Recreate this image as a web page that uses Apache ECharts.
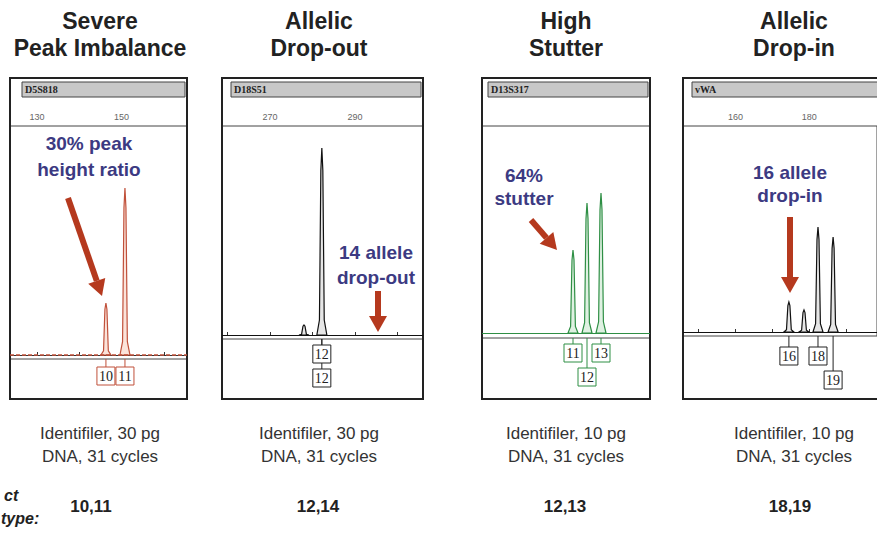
<!DOCTYPE html>
<html>
<head>
<meta charset="utf-8">
<script src="https://cdn.jsdelivr.net/npm/echarts@6/dist/echarts.min.js"></script>
<style>
  html, body { margin: 0; padding: 0; background: #fff; }
  #chart { width: 877px; height: 533px; }
</style>
</head>
<body>
<div id="chart"></div>
<script>
// peak data (size in bp, height in RFU)
const d5Sizes = [146.3, 150.8];
const d5Heights = [520, 1670];
const d5Labels = ['10', '11'];
const d5LabelSizes = [146.3, 150.8];
const d5Ticks = [130, 140, 150, 160];
const d5TickLabels = [130, 150];

const d18Sizes = [278.0, 282.2];
const d18Heights = [100, 1870];
const d18Labels = ['12', '12'];
const d18LabelSizes = [282.2, 282.2];
const d18Ticks = [260, 270, 280, 290, 300];
const d18TickLabels = [270, 290];

const d13Sizes = [225, 229, 233];
const d13Heights = [830, 1300, 1400];
const d13Labels = ['11', '12', '13'];
const d13LabelSizes = [225, 229, 233];

const vwaSizes = [174.5, 178.6, 182.4, 186.5];
const vwaHeights = [300, 220, 1050, 950];
const vwaLabels = ['16', '18', '19'];
const vwaLabelSizes = [174.5, 182.4, 186.5];
const vwaTicks = [150, 160, 170, 180, 190];
const vwaTickLabels = [160, 180];

const titles = [['Severe', 'Peak Imbalance'], ['Allelic', 'Drop-out'], ['High', 'Stutter'], ['Allelic', 'Drop-in']];
const conditions = [['Identifiler, 30 pg', 'DNA, 31 cycles'], ['Identifiler, 30 pg', 'DNA, 31 cycles'],
                    ['Identifiler, 10 pg', 'DNA, 31 cycles'], ['Identifiler, 10 pg', 'DNA, 31 cycles']];
const genotypes = ['10,11', '12,14', '12,13', '18,19'];
const notes = [['30% peak', 'height ratio'], ['14 allele', 'drop-out'], ['64%', 'stutter'], ['16 allele', 'drop-in']];
const rowHeader = ['ct', 'type:'];

const SANS = '"Liberation Sans", Arial, sans-serif';
const SERIF = '"Liberation Serif", "Times New Roman", serif';
const NOTE_COLOR = '#3c3a82';
const ARROW_COLOR = '#b5391e';

const chart = echarts.init(document.getElementById('chart'), null, { renderer: 'svg' });

// layout of the four panels
const panels = [
    { locus: 'D5S818', left: 10, right: 187, lower: 359, header: 22, xMin: 123.62, xMax: 165.47, yMin: -40, yMax: 2290,
      sizes: d5Sizes, heights: d5Heights, labels: d5Labels, labelSizes: d5LabelSizes, rows: [0, 0], gap: 8,
      ticks: d5Ticks, tickLabels: d5TickLabels, color: '#c0503a', fill: '#fbe3da', baseDash: [4, 2],
      center: 100, noteX: 89, noteY: [143, 169], arrow: [68, 198, 102, 296], genoX: 91 },
    { locus: 'D18S51', left: 222, right: 423, lower: 339, header: 231, xMin: 258.71, xMax: 306.0, yMin: -40, yMax: 2090,
      sizes: d18Sizes, heights: d18Heights, labels: d18Labels, labelSizes: d18LabelSizes, rows: [0, 1], gap: 6,
      ticks: d18Ticks, tickLabels: d18TickLabels, color: '#111', fill: '#e6e6e6', baseDash: null,
      center: 319, noteX: 376, noteY: [252, 277], arrow: [378, 291, 378, 332], genoX: 318 },
    { locus: 'D13S317', left: 482, right: 650, lower: 338, header: 488, xMin: 199, xMax: 247, yMin: -50, yMax: 2070,
      sizes: d13Sizes, heights: d13Heights, labels: d13Labels, labelSizes: d13LabelSizes, rows: [0, 1, 0], gap: 6,
      ticks: [], tickLabels: [], color: '#2f8f45', fill: '#dff1e2', baseDash: null,
      center: 566, noteX: 524, noteY: [175, 198], arrow: [531, 220, 557, 250], genoX: 565 },
    { locus: 'vWA', left: 683, right: 890, lower: 336, header: 692, xMin: 145.75, xMax: 198.42, yMin: -40, yMax: 2060,
      sizes: vwaSizes, heights: vwaHeights, labels: vwaLabels, labelSizes: vwaLabelSizes, rows: [0, 0, 1], gap: 11,
      ticks: vwaTicks, tickLabels: vwaTickLabels, color: '#111', fill: '#e6e6e6', baseDash: null,
      center: 794, noteX: 790, noteY: [172, 195], arrow: [790, 217, 790, 293], genoX: 790 }
];

const AXIS_Y = 126, BOX_TOP = 78, BOX_BOTTOM = 399;

function peakItem(p) {
    return function (params, api) {
        const top = api.coord([api.value(0), api.value(1)]);
        const base = api.coord([api.value(0), 0]);
        const h = base[1] - top[1];
        const pts = [
            [base[0] - 5, base[1]], [base[0] - 2.4, base[1] - h * 0.08], [base[0] - 1, top[1] + h * 0.12],
            [top[0], top[1]],
            [base[0] + 1, top[1] + h * 0.12], [base[0] + 2.4, base[1] - h * 0.08], [base[0] + 5, base[1]]
        ];
        return { type: 'polygon', shape: { points: pts }, style: { fill: p.fill, stroke: p.color, lineWidth: 1.2 } };
    };
}

function labelItem(p) {
    return function (params, api) {
        const x = api.coord([api.value(0), 0])[0];
        const bottom = params.coordSys.y + params.coordSys.height;
        const y = bottom + p.gap + p.rows[params.dataIndex] * 24;
        const stroke = p.color === '#111' ? '#222' : p.color;
        return { type: 'group', children: [
            { type: 'line', z2: 0, shape: { x1: x, y1: bottom, x2: x, y2: y }, style: { stroke: stroke, lineWidth: 1 } },
            { type: 'rect', z2: 5, shape: { x: x - 9, y: y, width: 18, height: 18 }, style: { fill: '#fff', stroke: stroke, lineWidth: 1 } },
            { type: 'text', z2: 6, style: { text: p.labels[params.dataIndex], x: x, y: y + 9.5, align: 'center', verticalAlign: 'middle',
                textAlign: 'center', textVerticalAlign: 'middle', font: '14px ' + SERIF, fill: '#222' } }
        ] };
    };
}

function arrow(a) {
    const [x1, y1, x2, y2] = a;
    const dx = x2 - x1, dy = y2 - y1, len = Math.sqrt(dx * dx + dy * dy);
    const ux = dx / len, uy = dy / len;
    const hl = 16, hw = 9;
    const bx = x2 - ux * hl, by = y2 - uy * hl;
    return [
        { type: 'line', shape: { x1: x1, y1: y1, x2: bx, y2: by }, style: { stroke: ARROW_COLOR, lineWidth: 6 } },
        { type: 'polygon', shape: { points: [[x2, y2], [bx - uy * hw, by + ux * hw], [bx + uy * hw, by - ux * hw]] },
          style: { fill: ARROW_COLOR } }
    ];
}

function txt(text, x, y, font, fill, align) {
    return { type: 'text', z: 10, style: { text: text, x: x, y: y, font: font, fill: fill,
        align: align || 'center', textAlign: align || 'center', verticalAlign: 'middle', textVerticalAlign: 'middle' } };
}

const grids = [], xAxes = [], yAxes = [], series = [], graphics = [];

panels.forEach(function (p, i) {
    grids.push({ left: p.left, top: AXIS_Y, width: p.right - p.left, height: p.lower - AXIS_Y,
        show: true, borderColor: '#444', borderWidth: 1, backgroundColor: 'transparent' });
    xAxes.push({
        type: 'value', gridIndex: i, position: 'top', min: p.xMin, max: p.xMax,
        axisLine: { show: true, lineStyle: { color: '#333', width: 1 } },
        axisTick: { show: p.ticks.length > 0, length: 3, customValues: p.ticks, lineStyle: { color: '#333' } },
        axisLabel: { show: p.tickLabels.length > 0, customValues: p.tickLabels, fontSize: 9, color: '#666', margin: 5, fontFamily: SANS },
        splitLine: { show: false }
    });
    yAxes.push({ type: 'value', gridIndex: i, min: p.yMin, max: p.yMax, show: false });

    series.push({
        type: 'custom', xAxisIndex: i, yAxisIndex: i, renderItem: peakItem(p), clip: false,
        data: p.sizes.map(function (s, k) { return [s, p.heights[k]]; }),
        markLine: { silent: true, symbol: 'none', label: { show: false },
            lineStyle: { color: p.color, width: p.baseDash ? 1.5 : 1, type: p.baseDash || 'solid' },
            data: [{ yAxis: 0 }] },
        z: 3
    });
    series.push({
        type: 'custom', xAxisIndex: i, yAxisIndex: i, renderItem: labelItem(p), clip: false,
        data: p.labelSizes.map(function (s) { return [s, 0]; }), z: 4
    });

    // panel frame and locus header
    graphics.push({ type: 'rect', z: 1, shape: { x: p.left, y: BOX_TOP, width: p.right - p.left, height: BOX_BOTTOM - BOX_TOP },
        style: { fill: 'none', stroke: '#222', lineWidth: 2 } });
    graphics.push({ type: 'rect', z: 1, shape: { x: p.header, y: 82, width: p.right - 2 - p.header, height: 15 },
        style: { fill: '#c8c8c8', stroke: '#444', lineWidth: 1 } });
    graphics.push(txt(p.locus, p.header + 3, 89.5, 'bold 10px ' + SERIF, '#222', 'left'));

    // titles, annotations, arrows and captions
    graphics.push(txt(titles[i][0], p.center, 21, 'bold 23px ' + SANS, '#222'));
    graphics.push(txt(titles[i][1], p.center, 48, 'bold 23px ' + SANS, '#222'));
    graphics.push(txt(notes[i][0], p.noteX, p.noteY[0], 'bold 19px ' + SANS, NOTE_COLOR));
    graphics.push(txt(notes[i][1], p.noteX, p.noteY[1], 'bold 19px ' + SANS, NOTE_COLOR));
    arrow(p.arrow).forEach(function (g) { g.z = 10; graphics.push(g); });
    graphics.push(txt(conditions[i][0], p.center, 433, '17px ' + SANS, '#333'));
    graphics.push(txt(conditions[i][1], p.center, 456, '17px ' + SANS, '#333'));
    graphics.push(txt(genotypes[i], p.genoX, 506, 'bold 17px ' + SANS, '#222'));
});

graphics.push(txt(rowHeader[0], 4, 495, 'italic bold 16px ' + SANS, '#222', 'left'));
graphics.push(txt(rowHeader[1], 1, 518, 'italic bold 16px ' + SANS, '#222', 'left'));

chart.setOption({
    backgroundColor: '#fff',
    animation: false,
    grid: grids,
    xAxis: xAxes,
    yAxis: yAxes,
    series: series,
    graphic: graphics
});
</script>
</body>
</html>
